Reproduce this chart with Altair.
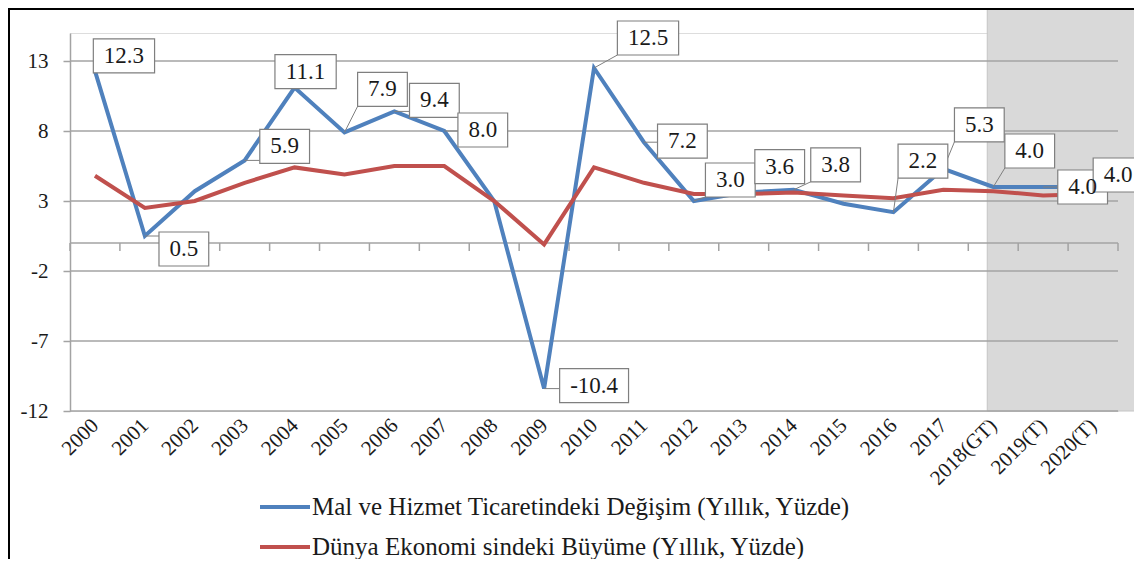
import json
import altair as alt
import pandas as pd

# ---------------- data ----------------
CATEGORIES = ["2000", "2001", "2002", "2003", "2004", "2005", "2006", "2007",
              "2008", "2009", "2010", "2011", "2012", "2013", "2014", "2015",
              "2016", "2017", "2018(GT)", "2019(T)", "2020(T)"]
TRADE = [12.3, 0.5, 3.7, 5.9, 11.1, 7.9, 9.4, 8.0, 3.0, -10.4, 12.5, 7.2,
         3.0, 3.6, 3.8, 2.8, 2.2, 5.3, 4.0, 4.0, 4.0]
GROWTH = [4.8, 2.5, 3.0, 4.3, 5.4, 4.9, 5.5, 5.5, 3.0, -0.1, 5.4, 4.3,
          3.5, 3.5, 3.6, 3.4, 3.2, 3.8, 3.7, 3.4, 3.5]
SERIES = ["Mal ve Hizmet Ticaretindeki Değişim (Yıllık, Yüzde)",
          "Dünya Ekonomi sindeki Büyüme (Yıllık, Yüzde)"]
Y_TICKS = [-12, -7, -2, 3, 8, 13]

# indices of labelled trade points and label placement (pixel offsets of box centre)
LABELLED = [0, 1, 3, 4, 5, 6, 7, 9, 10, 11, 12, 13, 14, 16, 17, 18, 19, 20]
LABEL_DX = [29, 39, 40, 11, 38, 40, 38.5, 50, 54, 38.5, 36.5, 36, 42, 29.5, 36, 36.5, 39.5, 25]
LABEL_DY = [-15, 13, -14, -16, -43, -11, -1, -3, -30, -1, -21, -26, -25, -51, -44, -36, 0, -12]

# forecast shading (x in category units)
SHADE_FROM, SHADE_TO = 18.38, 21.6

# ---------------- layout ----------------
W, H = 1048, 378
Y_DOM = [-12, 15]
N = len(CATEGORIES)
UX = W / N
UY = H / (Y_DOM[1] - Y_DOM[0])
BLUE, RED = "#4F81BD", "#C0504D"
GRID = "#a3a3a3"
SERIF = "'Liberation Serif', 'Times New Roman', Times, serif"
LABEL_FS = 23

xs = alt.Scale(domain=[0, N], nice=False, zero=False)
ys = alt.Scale(domain=Y_DOM, nice=False, zero=False)

line_rows = []
for s, vals in zip(SERIES, [TRADE, GROWTH]):
    for i, v in enumerate(vals):
        line_rows.append({"x": i + 0.5, "v": v, "series": s, "o": i})
line_df = pd.DataFrame(line_rows)


def char_w(c):
    return {".": 0.25, "-": 0.333}.get(c, 0.5) * LABEL_FS


lab_rows = []
for k, i in enumerate(LABELLED):
    v = TRADE[i]
    txt = f"{v:.1f}"
    px, py = (i + 0.5) * UX, (Y_DOM[1] - v) * UY
    cx, cy = px + LABEL_DX[k], py + LABEL_DY[k]
    bw = sum(char_w(c) for c in txt) + 21
    bh = 34
    bx0, bx1, by0, by1 = cx - bw / 2, cx + bw / 2, cy - bh / 2, cy + bh / 2
    lx, ly = min(max(px, bx0), bx1), min(max(py, by0), by1)
    to_x = lambda p: p / UX
    to_y = lambda p: Y_DOM[1] - p / UY
    lab_rows.append({
        "px": to_x(px), "py": to_y(py), "lx": to_x(lx), "ly": to_y(ly),
        "cx": to_x(cx), "cy": to_y(cy),
        "bx0": to_x(bx0), "bx1": to_x(bx1), "by0": to_y(by0), "by1": to_y(by1),
        "t": txt,
    })
lab_df = pd.DataFrame(lab_rows)

grid_df = pd.DataFrame({"y": Y_TICKS, "x0": 0, "x1": N})
bound_df = pd.DataFrame({"x": list(range(N + 1)), "y0": 0.0, "y1": -8 / UY})
shade_df = pd.DataFrame({"x0": [SHADE_FROM], "x1": [SHADE_TO], "y0": [Y_DOM[0]], "y1": [Y_DOM[1] + 2]})

label_expr = json.dumps(CATEGORIES) + "[floor(datum.value)]"

# ---------------- layers ----------------
shade = alt.Chart(shade_df).mark_rect(color="#d9d9d9", stroke="#c4c4c4", strokeWidth=1).encode(
    x=alt.X("x0:Q", scale=xs,
            axis=alt.Axis(values=[i + 0.5 for i in range(N)], labelExpr=label_expr,
                          labelAngle=-45, labelAlign="right", labelBaseline="middle",
                          labelFont=SERIF, labelFontSize=21, labelColor="#1a1a1a",
                          labelPadding=11, domain=False, ticks=False, grid=False,
                          title=None, labelOverlap=False, labelBound=False)),
    x2="x1:Q",
    y=alt.Y("y0:Q", scale=ys,
            axis=alt.Axis(values=Y_TICKS, labelExpr="toString(datum.value)",
                          labelFont=SERIF, labelFontSize=21,
                          labelColor="#1a1a1a", domainColor=GRID, domainWidth=1.5,
                          tickColor=GRID, tickWidth=1.5, tickSize=7, labelPadding=15,
                          grid=False, title=None)),
    y2="y1:Q",
)

grid = alt.Chart(grid_df).mark_rule(color=GRID, strokeWidth=1.5).encode(
    x=alt.X("x0:Q", scale=xs), x2="x1:Q", y=alt.Y("y:Q", scale=ys))

zero = alt.Chart(pd.DataFrame({"y": [0.0], "x0": [0], "x1": [N]})).mark_rule(
    color=GRID, strokeWidth=1.5).encode(x=alt.X("x0:Q", scale=xs), x2="x1:Q", y=alt.Y("y:Q", scale=ys))

ticks = alt.Chart(bound_df).mark_rule(color=GRID, strokeWidth=1.5).encode(
    x=alt.X("x:Q", scale=xs), y=alt.Y("y0:Q", scale=ys), y2="y1:Q")

lines = alt.Chart(line_df).mark_line(strokeWidth=4).encode(
    x=alt.X("x:Q", scale=xs),
    y=alt.Y("v:Q", scale=ys),
    color=alt.Color("series:N", sort=SERIES,
                    scale=alt.Scale(domain=SERIES, range=[BLUE, RED]),
                    legend=alt.Legend(orient="none", legendX=188, legendY=447, title=None,
                                      direction="vertical",
                                      symbolType="stroke", symbolSize=2500, symbolStrokeWidth=4,
                                      labelFont=SERIF, labelFontSize=25, labelColor="#1a1a1a",
                                      labelOffset=0, rowPadding=-12, labelLimit=1000)),
    order="o:Q",
    detail="series:N",
)

leaders = alt.Chart(lab_df).mark_rule(color="#7f7f7f", strokeWidth=1).encode(
    x=alt.X("px:Q", scale=xs), y=alt.Y("py:Q", scale=ys), x2="lx:Q", y2="ly:Q")

boxes = alt.Chart(lab_df).mark_rect(fill="white", stroke="#7f7f7f", strokeWidth=1.2).encode(
    x=alt.X("bx0:Q", scale=xs), x2="bx1:Q", y=alt.Y("by0:Q", scale=ys), y2="by1:Q")

texts = alt.Chart(lab_df).mark_text(font=SERIF, fontSize=LABEL_FS, color="#1a1a1a",
                                    align="center", baseline="middle").encode(
    x=alt.X("cx:Q", scale=xs), y=alt.Y("cy:Q", scale=ys), text="t:N")

frame_l = alt.Chart(pd.DataFrame({"a": [0]})).mark_rule(color="black", strokeWidth=2).encode(
    x=alt.value(-61), y=alt.value(-25), y2=alt.value(600))
frame_t = alt.Chart(pd.DataFrame({"a": [0]})).mark_rule(color="black", strokeWidth=2).encode(
    y=alt.value(-24), x=alt.value(-62), x2=alt.value(1200))

chart = alt.layer(shade, grid, zero, ticks, lines, leaders, boxes, texts, frame_l, frame_t).properties(
    width=W, height=H,
    autosize=alt.AutoSizeParams(type="none"),
    padding={"left": 62, "top": 25, "right": 16, "bottom": 148},
).configure_view(stroke=None).configure(background="white")

chart.save("out.html", embed_options={"renderer": "svg", "actions": False})
